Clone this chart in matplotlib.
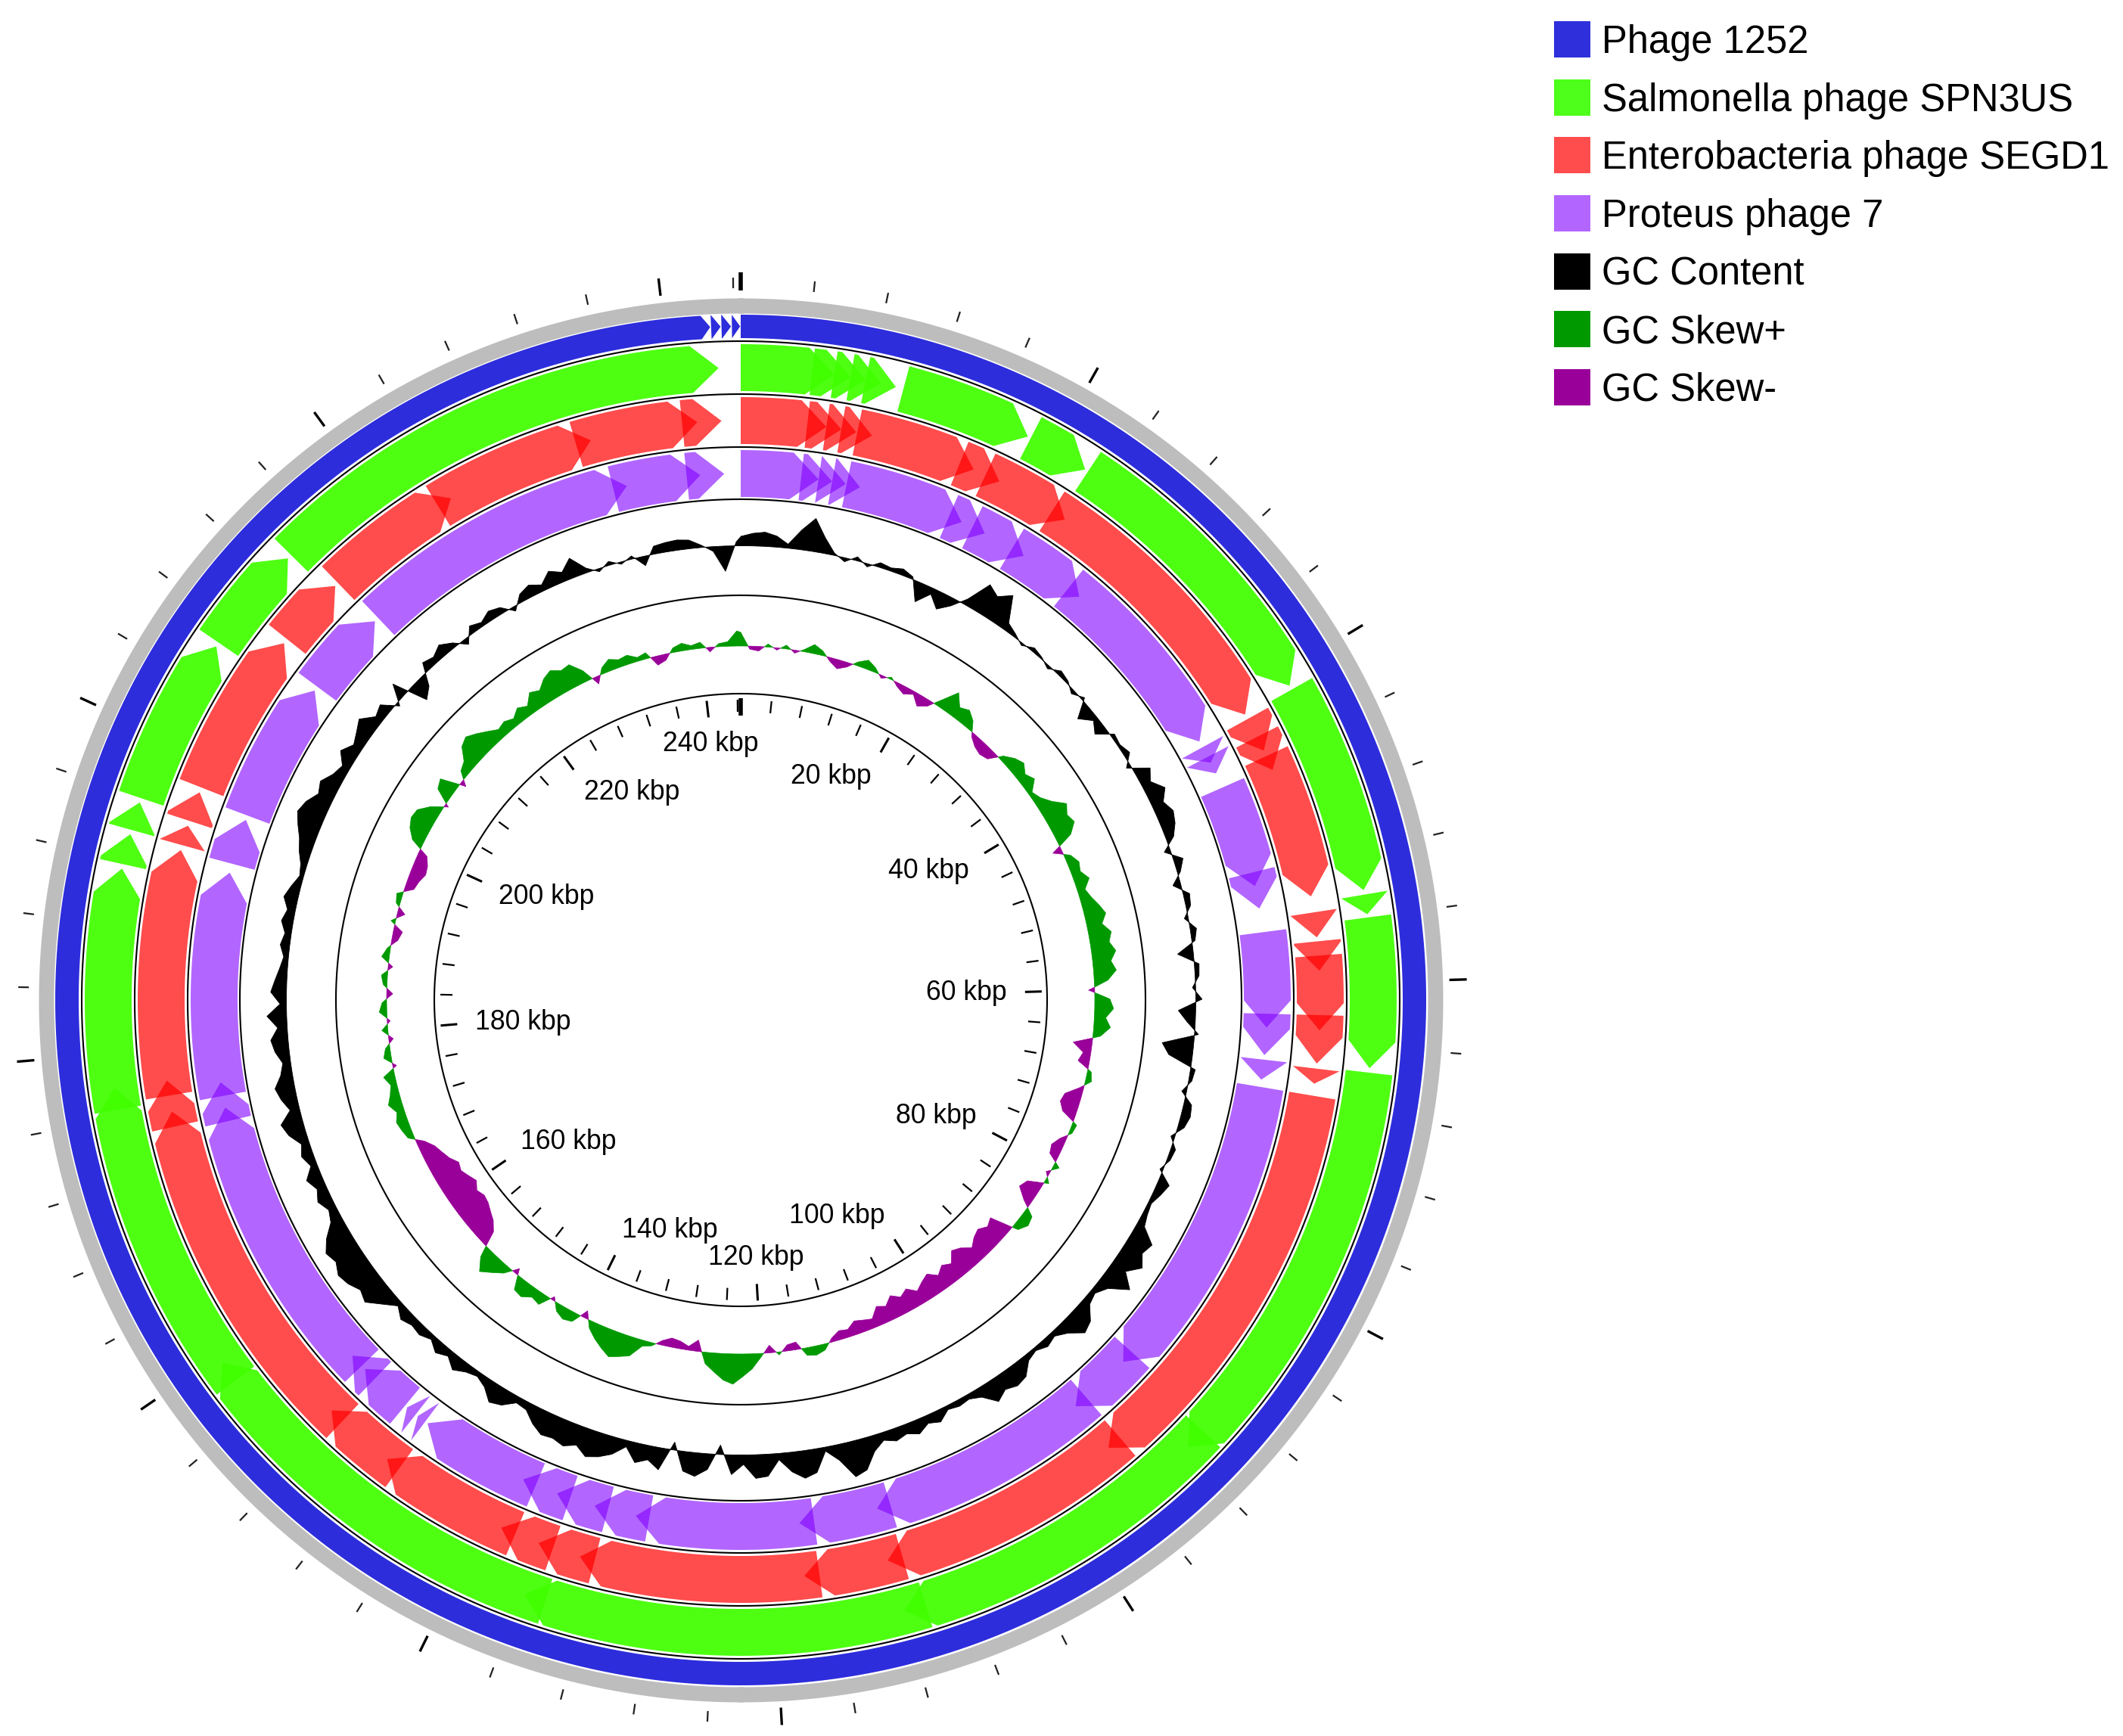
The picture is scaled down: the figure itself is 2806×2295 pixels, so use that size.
import numpy as np
import matplotlib
matplotlib.use("Agg")
import matplotlib.pyplot as plt
from matplotlib.patches import Rectangle

plt.rcParams['font.family'] = ['Liberation Sans', 'DejaVu Sans']

# ---------------- data ----------------
GENOME_KBP = 244.41

# features (start kbp, end kbp), drawn as clockwise arrows
phage1252 = [(0.0, 242.65), (242.70, 243.25), (243.30, 243.85), (243.90, 244.38)]

spn3us = [(0.0, 5.77), (4.41, 6.79), (5.77, 7.74), (6.79, 8.69), (7.74, 9.64),
          (10.12, 18.33), (18.53, 22.40), (22.61, 40.87), (41.14, 54.31),
          (54.59, 55.81), (56.01, 65.31), (65.58, 91.65), (90.30, 112.02),
          (110.66, 135.78), (134.43, 159.55), (158.19, 177.88), (176.52, 191.45),
          (191.73, 193.63), (193.90, 195.67), (195.94, 206.39), (206.66, 213.38),
          (213.66, 243.05)]

segd1 = [(0.0, 5.77), (4.48, 6.79), (5.77, 7.81), (6.79, 8.89), (7.88, 16.09),
         (15.07, 17.99), (16.97, 23.08), (22.06, 41.07), (41.41, 43.79),
         (42.77, 45.22), (44.20, 54.11), (55.20, 56.89), (57.16, 59.13),
         (58.12, 63.14), (62.12, 65.38), (65.72, 66.74), (67.55, 95.46),
         (94.44, 112.23), (111.21, 117.93), (116.91, 133.14), (132.12, 136.06),
         (135.04, 138.77), (137.75, 147.73), (146.71, 152.69), (151.67, 175.77),
         (174.75, 177.88), (176.86, 193.49), (193.83, 195.19), (195.53, 197.57),
         (197.91, 209.11), (209.45, 214.27), (214.54, 224.04), (223.03, 234.23),
         (233.21, 241.49), (240.47, 243.12)]

proteus7 = [(0.0, 5.77), (4.48, 6.79), (5.77, 7.81), (6.79, 8.89), (7.88, 16.84),
            (15.82, 18.74), (17.72, 22.06), (21.05, 27.16), (26.14, 41.14),
            (41.62, 42.91), (42.43, 43.79), (44.94, 52.62), (51.60, 54.31),
            (56.08, 63.14), (62.12, 65.18), (65.52, 67.01), (67.55, 90.57),
            (89.62, 95.39), (94.37, 112.02), (111.00, 117.86), (116.77, 130.01),
            (129.00, 133.14), (132.12, 136.06), (135.04, 138.77), (137.75, 146.98),
            (147.19, 147.87), (148.07, 148.89), (149.09, 153.10), (152.08, 154.45),
            (153.44, 175.30), (174.28, 177.20), (176.18, 192.81), (193.49, 196.89),
            (197.23, 207.75), (208.09, 214.54), (214.88, 235.93), (234.91, 241.42),
            (240.41, 243.19)]

# GC content deviation (% points) and GC skew, one value per kbp from 0 to 244
GC_STEP_KBP = 1
gc_content = [2.4, 3.2, 3.6, 2.8, 1.0, 5.0, 8.4, 4.0, 0.6, -1.0,
              1.0, -0.8, 1.2, 0.8, 1.6, 0.6, -5.0, -1.6, -4.4, -2.0,
              1.6, 7.6, 6.0, 8.4, 2.0, 0.8, -0.6, 1.0, 0.4, -0.8,
              1.2, 0.6, -1.0, 0.8, -4.0, -1.2, -3.0, 1.0, 0.6, 1.6,
              -1.2, 4.0, 2.4, 5.0, 3.0, 4.4, 3.6, 2.0, -1.6, 2.4,
              0.8, -2.0, 1.6, 1.2, -1.0, 1.6, 0.8, -4.0, 1.2, 1.0,
              -0.8, 1.6, -4.4, -2.0, 1.0, -8.0, -6.0, 1.2, 0.8, -1.2,
              2.0, 2.4, 1.6, -1.0, 1.2, 0.8, -0.8, 3.0, 2.0, 0.8,
              1.2, 2.0, 6.0, 5.0, 7.0, 4.0, 7.6, 3.0, 1.2, 2.0,
              5.0, 6.0, 3.0, 1.2, 2.0, 0.8, 1.6, 4.4, 5.0, 4.0,
              5.6, 2.4, 1.2, 1.6, 1.0, 3.0, 2.0, 3.6, 2.4, 3.2,
              2.0, 4.0, 8.0, 9.0, 4.0, 1.0, 6.0, 7.0, 5.0, 1.6,
              5.6, 6.0, 2.4, 5.0, -2.4, 4.0, 6.0, 5.0, -2.0, 5.6,
              3.6, 5.0, 1.6, 4.4, 6.0, 7.0, 5.0, 6.4, 5.6, 6.0,
              4.4, 2.0, 1.6, 4.0, 5.0, 2.4, 1.2, 2.0, 3.6, 1.6,
              3.0, 1.2, 2.4, 2.0, 3.0, 1.2, 4.0, 7.0, 6.0, 7.6,
              8.4, 7.0, 8.0, 6.0, 3.0, 2.0, 3.6, 2.4, 4.0, 1.6,
              3.0, 2.0, 4.4, 5.6, 2.4, 4.0, 5.0, 3.0, 2.0, 3.6,
              4.4, 2.4, 5.0, 1.6, 4.0, 3.0, 2.0, 1.2, 2.4, 1.6,
              3.0, 2.0, 3.6, 2.4, 1.0, 1.6, 3.0, 4.0, 5.6, 7.0,
              6.0, 4.0, 5.0, 3.0, 2.0, 4.4, 2.4, 3.6, 5.0, 2.0,
              3.0, -1.0, 4.0, -5.0, -3.0, 2.4, 1.6, 3.0, 1.2, -1.6,
              2.0, 1.0, 2.4, 1.6, -1.2, 2.0, 3.0, 1.6, 4.0, 2.4,
              5.0, 1.2, -0.8, 1.0, -0.6, 0.8, -2.4, 2.0, 2.4, 2.6,
              2.2, 0.6, -1.2, -6.4, 1.0]
gc_skew = [0.18, -0.04, -0.06, 0.04, -0.03, 0.05, -0.04, 0.03, 0.12, 0.06,
           -0.05, -0.12, -0.06, 0.05, 0.12, 0.06, -0.04, 0.03, -0.05, -0.10,
           -0.04, -0.15, -0.08, 0.10, 0.30, 0.15, 0.20, 0.12, -0.05, -0.12,
           -0.15, -0.12, 0.06, 0.15, 0.20, 0.12, 0.18, 0.05, 0.10, 0.20,
           0.35, 0.28, 0.32, 0.20, -0.12, 0.08, 0.15, 0.12, 0.20, 0.10,
           0.15, 0.22, 0.28, 0.20, 0.30, 0.25, 0.32, 0.24, 0.30, 0.18,
           -0.08, 0.20, 0.25, 0.15, 0.22, 0.10, -0.25, -0.10, -0.15, 0.05,
           0.08, -0.06, -0.22, -0.25, -0.18, 0.06, 0.04, -0.08, -0.15, -0.12,
           0.08, -0.05, 0.06, -0.20, -0.25, -0.10, 0.12, 0.15, 0.08, -0.30,
           -0.25, -0.32, -0.28, -0.20, -0.30, -0.35, -0.22, -0.28, -0.20, -0.30,
           -0.25, -0.18, -0.28, -0.22, -0.30, -0.20, -0.25, -0.12, -0.15, -0.18,
           -0.10, -0.12, -0.05, 0.08, 0.12, 0.10, -0.10, -0.08, 0.04, -0.10,
           0.05, 0.20, 0.30, 0.40, 0.35, 0.25, 0.15, -0.15, -0.05, -0.10,
           -0.12, -0.06, 0.04, 0.08, 0.25, 0.30, 0.35, 0.28, 0.20, 0.10,
           -0.10, 0.12, 0.15, 0.10, -0.05, 0.15, 0.12, 0.20, 0.18, -0.08,
           0.10, 0.20, 0.30, 0.15, -0.20, -0.30, -0.35, -0.40, -0.42, -0.38,
           -0.45, -0.40, -0.35, -0.38, -0.30, -0.25, -0.20, -0.10, 0.08, 0.12,
           0.15, 0.10, 0.18, 0.12, 0.08, 0.15, -0.05, 0.10, 0.06, -0.06,
           0.08, -0.04, 0.10, 0.06, -0.08, 0.05, 0.08, -0.06, 0.10, 0.04,
           -0.08, -0.12, 0.06, -0.10, 0.05, 0.08, -0.12, -0.15, -0.20, -0.18,
           -0.12, 0.15, 0.25, 0.30, 0.28, 0.15, -0.05, 0.20, 0.25, -0.08,
           0.10, 0.15, 0.30, 0.35, 0.28, 0.20, 0.12, 0.15, 0.10, 0.18,
           0.12, 0.25, 0.20, 0.30, 0.35, 0.28, 0.30, 0.15, -0.10, 0.08,
           0.15, 0.10, 0.12, 0.05, 0.08, -0.12, -0.08, 0.06, 0.10, 0.05,
           0.08, -0.06, 0.04, 0.06, 0.20]

tick_label_kbp = [20, 40, 60, 80, 100, 120, 140, 160, 180, 200, 220, 240]
MINOR_TICK_KBP = 4
MAJOR_TICK_KBP = 20

legend_labels = ["Phage 1252", "Salmonella phage SPN3US", "Enterobacteria phage SEGD1",
                 "Proteus phage 7", "GC Content", "GC Skew+", "GC Skew-"]
legend_colors = ["#2f2fdb", "#4dff1a", "#ff4d4d", "#b266ff", "#000000", "#009900", "#990099"]

# ---------------- layout ----------------
W, H = 2806, 2295
CX, CY = 979, 1322
RMAX = 970

fig = plt.figure(figsize=(W / 100, H / 100), dpi=100)
ax = fig.add_axes([(CX - RMAX) / W, (H - CY - RMAX) / H, 2 * RMAX / W, 2 * RMAX / H],
                  projection='polar')
ax.set_theta_zero_location('N')
ax.set_theta_direction(-1)
ax.set_ylim(0, RMAX)
ax.set_axis_off()


def th(k):
    return np.asarray(k, dtype=float) / GENOME_KBP * 2 * np.pi


TT = np.linspace(0, 2 * np.pi, 2881)


def draw_track(feats, r0, r1, color, alpha, head_px=36):
    rm = (r0 + r1) / 2
    hd = head_px / rm
    for s, e in feats:
        ts, te = float(th(s)), float(th(e))
        tb = max(ts, te - hd)
        n = max(2, int((tb - ts) / 0.002) + 2)
        arc = np.linspace(ts, tb, n)
        T = np.concatenate([arc, [te], arc[::-1]])
        R = np.concatenate([np.full(n, r1), [rm], np.full(n, r0)])
        ax.fill(T, R, color=color, alpha=alpha, lw=0, zorder=2)


# outer gray ring
ax.fill_between(TT, 908, 928, color='#bdbdbd', lw=0, zorder=1)
# tracks
draw_track(phage1252, 875, 906, '#2d2ddc', 1.0, head_px=12)
draw_track(spn3us, 805, 867, (0.25, 1.0, 0.0), 0.93)
draw_track(segd1, 735, 797, (1.0, 0.0, 0.0), 0.70)
draw_track(proteus7, 665, 727, (0.5, 0.0, 1.0), 0.60)

# ring border lines
for r in (871, 801, 731, 662, 535, 405):
    ax.plot(TT, np.full_like(TT, r), color='black', lw=1.5, zorder=4)

# GC content
pos = np.arange(len(gc_content)) * GC_STEP_KBP
gth = np.append(th(pos), 2 * np.pi)
gcv = np.append(np.array(gc_content), gc_content[0])
GC_BASE, GC_SCALE = 601, 5.2
ax.fill_between(gth, GC_BASE, GC_BASE + gcv * GC_SCALE, color='black', lw=0.6, zorder=3)

# GC skew
skv = np.append(np.array(gc_skew), gc_skew[0])
SK_BASE, SK_SCALE = 468, 100
ax.fill_between(gth, SK_BASE, SK_BASE + skv * SK_SCALE, where=skv >= 0, interpolate=True,
                color='#009900', lw=0.5, zorder=3)
ax.fill_between(gth, SK_BASE, SK_BASE + skv * SK_SCALE, where=skv <= 0, interpolate=True,
                color='#990099', lw=0.5, zorder=3)

# outer ticks
for k in np.arange(0, GENOME_KBP, MINOR_TICK_KBP):
    t = float(th(k))
    if k == 0:
        ax.plot([t, t], [938, 962], color='black', lw=4.0, zorder=4, solid_capstyle='butt')
    elif k % MAJOR_TICK_KBP == 0:
        ax.plot([t, t], [937, 960], color='black', lw=2.4, zorder=4, solid_capstyle='butt')
    else:
        ax.plot([t, t], [941, 955], color='#222222', lw=1.6, zorder=4, solid_capstyle='butt')

# inner ticks
for k in np.arange(0, GENOME_KBP, MINOR_TICK_KBP):
    t = float(th(k))
    if k == 0:
        ax.plot([t, t], [376, 399], color='black', lw=4.0, zorder=4, solid_capstyle='butt')
    elif k % MAJOR_TICK_KBP == 0:
        ax.plot([t, t], [376, 398], color='black', lw=2.2, zorder=4, solid_capstyle='butt')
    else:
        ax.plot([t, t], [381, 397], color='black', lw=1.6, zorder=4, solid_capstyle='butt')

# tick labels
renderer = fig.canvas.get_renderer()


def f(s):
    return np.sign(s) * np.clip((abs(s) - 0.15) / 0.3, 0, 1)


ANCHOR = 352
for k in tick_label_kbp:
    t = float(th(k))
    txt = ax.text(0, 0, f"{k} kbp", fontsize=25.7, ha='center', va='center', zorder=5)
    bb = txt.get_window_extent(renderer)
    w, h = bb.width, bb.height * 0.62
    axp, ayp = ANCHOR * np.sin(t), -ANCHOR * np.cos(t)
    cx = axp - (w / 2) * f(np.sin(t))
    cy = ayp + (h / 2) * f(np.cos(t))
    txt.set_position((np.arctan2(cx, -cy), np.hypot(cx, cy)))

# legend
for i, (lab, col) in enumerate(zip(legend_labels, legend_colors)):
    yc = 52 + 76.65 * i
    fig.patches.append(Rectangle((2054 / W, 1 - (yc + 24) / H), 48 / W, 48 / H,
                                 transform=fig.transFigure, facecolor=col, edgecolor='none'))
    fig.text(2117 / W, 1 - (yc + 18) / H, lab, fontsize=36.5, ha='left', va='baseline')

fig.savefig('out.png', dpi=100)
